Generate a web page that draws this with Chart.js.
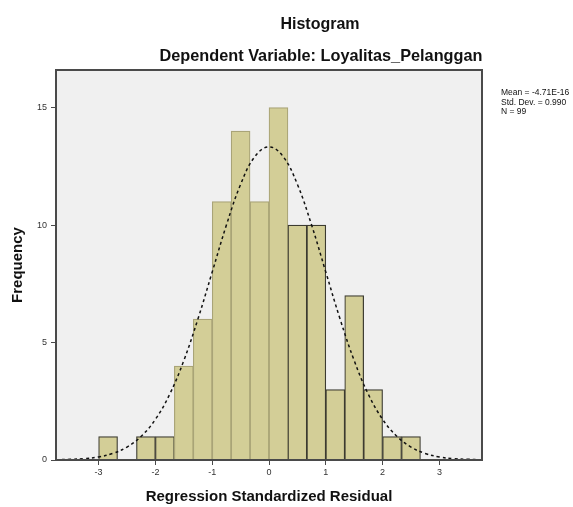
<!DOCTYPE html>
<html>
<head>
<meta charset="utf-8">
<script src="https://cdn.jsdelivr.net/npm/chart.js@4/dist/chart.umd.min.js"></script>
<style>
  html, body { margin: 0; padding: 0; background: #ffffff; }
  #wrap { position: relative; width: 573px; height: 507px; }
</style>
</head>
<body>
<div id="wrap"><canvas id="histogramChart" width="573" height="507"></canvas></div>
<script>
/**
 * SPSS-style residual histogram with fitted normal curve
 */

// bin centres (width 1/3) and counts
const binCenters = [-2.833, -2.5, -2.167, -1.833, -1.5, -1.167, -0.833, -0.5, -0.167,
  0.167, 0.5, 0.833, 1.167, 1.5, 1.833, 2.167, 2.5];
const binCounts = [1, 0, 1, 1, 4, 6, 11, 14, 11, 15, 10, 10, 3, 7, 3, 1, 1];

// normal curve, read at quarter steps
const curveX = [-3.75, -3.5, -3.25, -3, -2.75, -2.5, -2.25, -2, -1.75, -1.5, -1.25, -1, -0.75,
  -0.5, -0.25, 0, 0.25, 0.5, 0.75, 1, 1.25, 1.5, 1.75, 2, 2.25, 2.5, 2.75, 3, 3.25, 3.5, 3.75];
const curveY = [0.01, 0.03, 0.06, 0.13, 0.28, 0.55, 1.01, 1.73, 2.79, 4.23, 6.01, 8.0, 10.0,
  11.73, 12.91, 13.33, 12.91, 11.73, 10.0, 8.0, 6.01, 4.23, 2.79, 1.73, 1.01, 0.55, 0.28, 0.13, 0.06, 0.03, 0.01];

const xTicks = [-3, -2, -1, 0, 1, 2, 3];
const yTicks = [0, 5, 10, 15];

const statLines = ["Mean = -4.71E-16", "Std. Dev. = 0.990", "N = 99"];

const FONT = "'Liberation Sans', Arial, sans-serif";
const FRAME = "#4a4a4a";

// some bar edges are drawn darker than others in the original
const darkEdge = "#3c3b30";
const lightEdge = "#a9a477";
const barEdges = binCounts.map((_, i) => (i >= 4 && i <= 9 ? lightEdge : darkEdge));

/**
 * Grey plot background, frame and text blocks
 */
const frameAndText = {
  id: "frameAndText",
  beforeDatasetsDraw: (chart) => {
    const { ctx, chartArea: a } = chart;
    ctx.save();
    ctx.fillStyle = "#f0f0f0";
    ctx.fillRect(a.left, a.top, a.right - a.left, a.bottom - a.top);
    ctx.restore();
  },
  afterDraw: (chart) => {
    const { ctx, chartArea: a } = chart;
    ctx.save();
    ctx.strokeStyle = FRAME;
    ctx.lineWidth = 2;
    ctx.strokeRect(a.left, a.top, a.right - a.left, a.bottom - a.top);

    ctx.fillStyle = "#111";
    ctx.textAlign = "center";
    ctx.textBaseline = "middle";
    ctx.font = `bold 16px ${FONT}`;
    ctx.fillText("Histogram", 320, 25);
    ctx.font = `bold 16.3px ${FONT}`;
    ctx.fillText("Dependent Variable: Loyalitas_Pelanggan", 321, 57);

    ctx.textAlign = "left";
    ctx.font = `8.5px ${FONT}`;
    statLines.forEach((line, i) => {
      ctx.fillText(line, 501, 93 + i * 9.5);
    });
    ctx.restore();
  },
};

const ctx = document.getElementById("histogramChart").getContext("2d");

new Chart(ctx, {
  data: {
    datasets: [
      {
        type: "line",
        data: curveX.map((x, i) => ({ x, y: curveY[i] })),
        borderColor: "#111",
        borderWidth: 1.5,
        borderDash: [3, 3],
        pointRadius: 0,
        tension: 0.4,
        fill: false,
        order: 0,
      },
      {
        type: "bar",
        data: binCenters.map((x, i) => ({ x, y: binCounts[i] })),
        backgroundColor: "#d3ce97",
        borderColor: barEdges,
        borderWidth: 1.2,
        barPercentage: 1,
        categoryPercentage: 1,
        grouped: false,
        order: 1,
      },
    ],
  },
  options: {
    responsive: false,
    animation: false,
    layout: { padding: { left: 0, top: 70, right: 91, bottom: 0 } },
    plugins: {
      legend: { display: false },
      tooltip: { enabled: false },
    },
    scales: {
      x: {
        type: "linear",
        min: -3.75,
        max: 3.75,
        offset: false,
        afterBuildTicks: (scale) => {
          scale.ticks = xTicks.map((value) => ({ value }));
        },
        afterFit: (scale) => {
          scale.height = 47;
        },
        grid: {
          display: true,
          offset: false,
          drawOnChartArea: false,
          drawTicks: true,
          tickLength: 5,
          color: FRAME,
        },
        border: { display: true, color: FRAME, width: 2 },
        ticks: {
          padding: 2,
          color: "#333",
          font: { family: FONT, size: 9 },
          callback: (v) => String(v),
        },
        title: {
          display: true,
          text: "Regression Standardized Residual",
          color: "#111",
          font: { family: FONT, size: 15, weight: "bold" },
          padding: { top: 0, bottom: 1 },
        },
      },
      y: {
        min: 0,
        max: 16.6,
        afterBuildTicks: (scale) => {
          scale.ticks = yTicks.map((value) => ({ value }));
        },
        afterFit: (scale) => {
          scale.width = 56;
        },
        grid: { display: true, drawOnChartArea: false, drawTicks: true, tickLength: 5, color: FRAME },
        border: { display: true, color: FRAME, width: 2 },
        ticks: {
          padding: 4,
          color: "#333",
          font: { family: FONT, size: 9 },
        },
        title: {
          display: true,
          text: "Frequency",
          color: "#111",
          font: { family: FONT, size: 15, weight: "bold" },
          padding: { top: 9, bottom: 0 },
        },
      },
    },
  },
  plugins: [frameAndText],
});
</script>
</body>
</html>
